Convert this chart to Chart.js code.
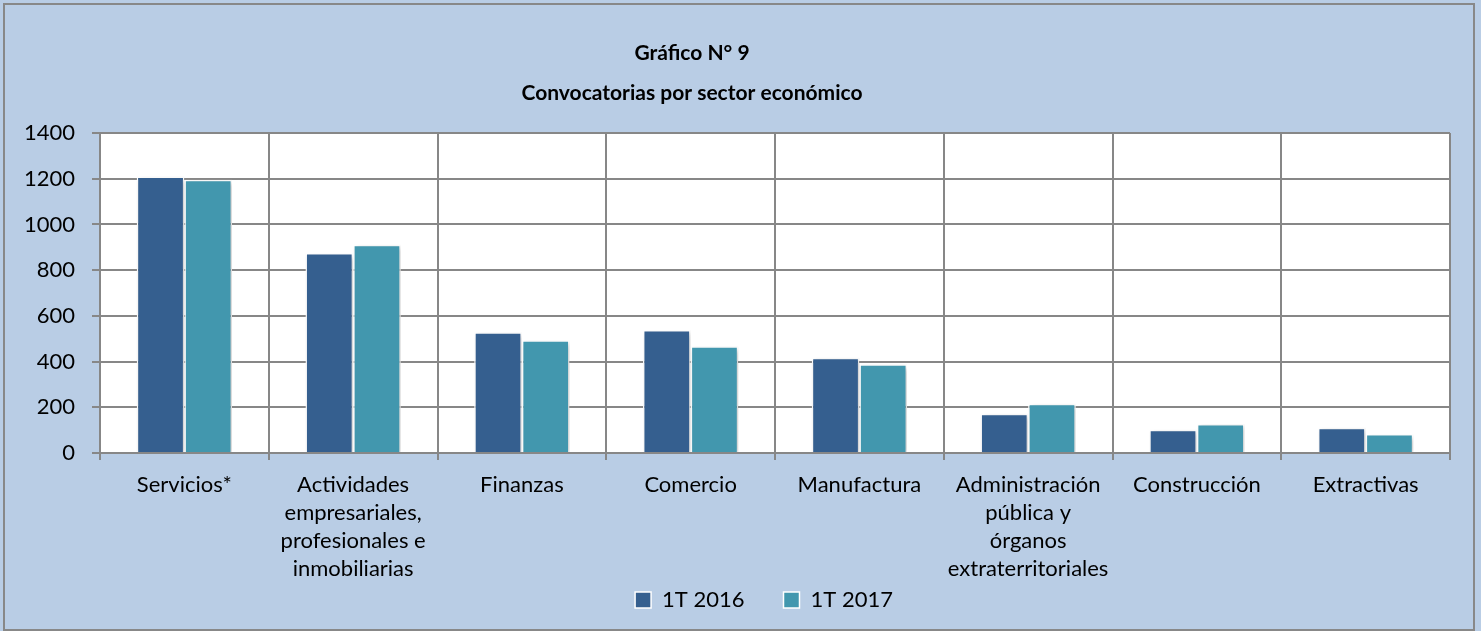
<!DOCTYPE html>
<html>
<head>
<meta charset="utf-8">
<script src="https://cdn.jsdelivr.net/npm/chart.js@4.4.1/dist/chart.umd.min.js"></script>
<style>
html,body{margin:0;padding:0;background:#B9CDE5;}
#wrap{width:1481px;height:631px;position:relative;}
canvas{display:block;}
</style>
</head>
<body>
<div id="wrap"><canvas id="c" width="1481" height="631"></canvas></div>
<script>
// ---- data ----
const categories = [
  'Servicios*',
  ['Actividades', 'empresariales,', 'profesionales e', 'inmobiliarias'],
  'Finanzas',
  'Comercio',
  'Manufactura',
  ['Administración', 'pública y', 'órganos', 'extraterritoriales'],
  'Construcción',
  'Extractivas'
];
const series2016 = [1210, 875, 528, 538, 417, 172, 102, 111];
const series2017 = [1195, 911, 493, 467, 388, 216, 127, 83];
const seriesNames = ['1T 2016', '1T 2017'];
const yTickValues = [0, 200, 400, 600, 800, 1000, 1200, 1400];
const titleLines = ['Gráfico N° 9', 'Convocatorias por sector económico'];

// ---- styles ----
const BG = '#B9CDE5';
const GRID = '#878787';
const COL2016 = '#355F8F';
const COL2017 = '#4297AE';
const FONT = 'Lato';

const backgroundPlugin = {
  id: 'bgPlugin',
  beforeDraw(chart) {
    const ctx = chart.ctx;
    const a = chart.chartArea;
    ctx.save();
    ctx.fillStyle = BG;
    ctx.fillRect(0, 0, chart.width, chart.height);
    ctx.strokeStyle = '#888888';
    ctx.lineWidth = 2;
    ctx.strokeRect(4, 4, 1470, 626);
    ctx.fillStyle = '#FFFFFF';
    ctx.fillRect(a.left, a.top, a.right - a.left, a.bottom - a.top);
    ctx.restore();
  },
  beforeDatasetsDraw(chart) {
    const ctx = chart.ctx;
    ctx.save();
    ctx.shadowColor = 'rgba(0,0,0,0.22)';
    ctx.shadowBlur = 5;
    ctx.shadowOffsetX = 2;
    ctx.shadowOffsetY = 2;
  },
  afterDatasetsDraw(chart) {
    chart.ctx.restore();
  }
};

const shiftPlugin = {
  id: 'shiftPlugin',
  afterLayout(chart) {
    if (chart.titleBlock) { chart.titleBlock.left -= 38; chart.titleBlock.right -= 38; }
    if (chart.legend) { chart.legend.left += 34; chart.legend.right += 34; }
    // let the multi-line category labels extend below the axis box (no clipping)
    if (chart.scales.x) { chart.scales.x.bottom = chart.height; }
  }
};

function build() {
  new Chart(document.getElementById('c'), {
    type: 'bar',
    data: {
      labels: categories,
      datasets: [
        { label: seriesNames[0], data: series2016, backgroundColor: COL2016, borderColor: '#FFFFFF', borderWidth: 1.5 },
        { label: seriesNames[1], data: series2017, backgroundColor: COL2017, borderColor: '#FFFFFF', borderWidth: 1.5 }
      ]
    },
    options: {
      responsive: false,
      animation: false,
      devicePixelRatio: 1,
      layout: { padding: { left: 10, right: 31, top: 0, bottom: 10 } },
      datasets: { bar: { categoryPercentage: 0.565, barPercentage: 1.0 } },
      plugins: {
        tooltip: { enabled: false },
        title: {
          display: true,
          text: titleLines,
          color: '#000000',
          font: { family: FONT, size: 21, weight: 'bold', lineHeight: 1.905 },
          padding: { top: 33, bottom: 20 }
        },
        legend: {
          display: true,
          position: 'bottom',
          labels: {
            color: '#000000',
            font: { family: FONT, size: 22 },
            boxWidth: 16,
            boxHeight: 16,
            padding: 39
          }
        }
      },
      scales: {
        x: {
          offset: true,
          grid: { display: true, offset: true, color: GRID, lineWidth: 2, tickLength: 7, drawTicks: true },
          border: { display: true, color: GRID, width: 2 },
          ticks: {
            color: '#000000',
            font: { family: FONT, size: 22, lineHeight: 1.27 },
            maxRotation: 0, minRotation: 0, autoSkip: false, padding: 11
          },
          afterFit(scale) { scale.height = 97; }
        },
        y: {
          min: 0, max: 1400,
          afterBuildTicks(scale) { scale.ticks = yTickValues.map(v => ({ value: v })); },
          grid: { color: GRID, lineWidth: 2, tickLength: 8 },
          border: { display: true, color: GRID, width: 2 },
          ticks: {
            color: '#000000', font: { family: FONT, size: 22 }, padding: 17,
            callback: (v) => String(v)
          },
          afterFit(scale) { scale.width = 90; }
        }
      }
    },
    plugins: [backgroundPlugin, shiftPlugin]
  });
}

Promise.all([
  document.fonts.load('22px Lato'),
  document.fonts.load('bold 21px Lato')
]).then(build, build);
</script>
</body>
</html>
